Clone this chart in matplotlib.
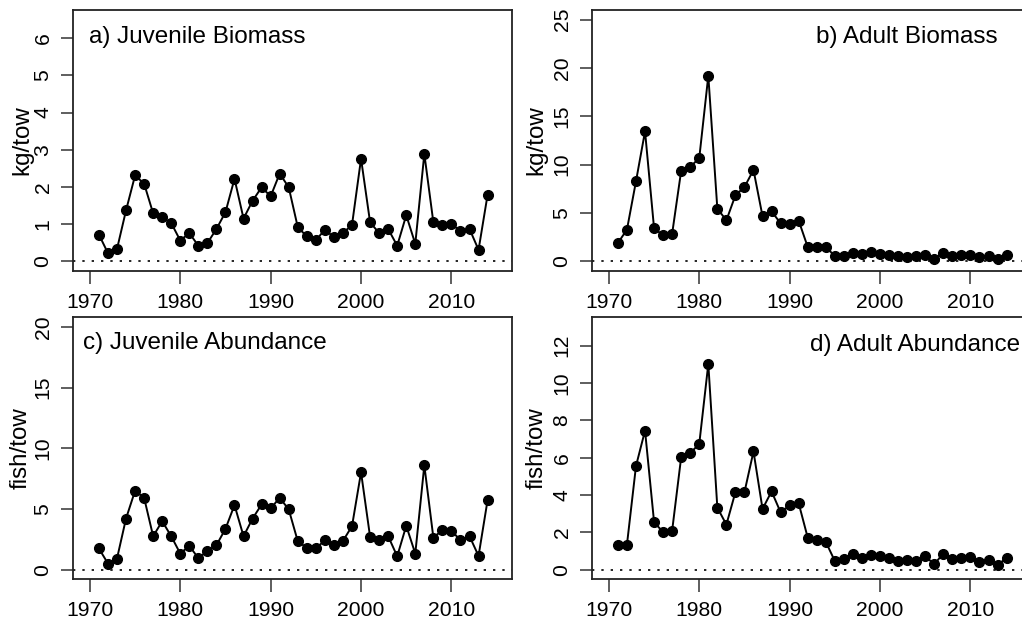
import numpy as np
import matplotlib
matplotlib.use("Agg")
import matplotlib.pyplot as plt

plt.rcParams['font.family'] = ['Liberation Sans', 'DejaVu Sans']

years = list(range(1971, 2015))

juv_biomass = [0.72, 0.22, 0.33, 1.37, 2.31, 2.09, 1.29, 1.18, 1.03, 0.56,
               0.76, 0.42, 0.49, 0.87, 1.32, 2.22, 1.15, 1.63, 1.99, 1.75,
               2.36, 1.99, 0.92, 0.67, 0.57, 0.85, 0.65, 0.76, 0.98, 2.76,
               1.05, 0.76, 0.87, 0.42, 1.24, 0.47, 2.89, 1.05, 0.97, 1.01,
               0.81, 0.87, 0.31, 1.79]

adult_biomass = [1.9, 3.28, 8.28, 13.45, 3.41, 2.69, 2.86, 9.38, 9.76, 10.69,
                 19.2, 5.45, 4.24, 6.83, 7.69, 9.45, 4.66, 5.17, 3.93, 3.9,
                 4.21, 1.48, 1.52, 1.52, 0.52, 0.52, 0.86, 0.79, 0.93, 0.79,
                 0.69, 0.52, 0.48, 0.52, 0.69, 0.28, 0.86, 0.59, 0.62, 0.69,
                 0.45, 0.55, 0.28, 0.62]

juv_abundance = [1.74, 0.5, 0.91, 4.21, 6.5, 5.92, 2.75, 3.99, 2.75, 1.32,
                 1.96, 0.94, 1.54, 2.01, 3.36, 5.32, 2.75, 4.21, 5.37, 5.04,
                 5.92, 4.96, 2.34, 1.79, 1.74, 2.42, 2.01, 2.37, 3.58, 8.02,
                 2.7, 2.42, 2.75, 1.1, 3.61, 1.32, 8.6, 2.64, 3.25, 3.2,
                 2.42, 2.75, 1.13, 5.73]

adult_abundance = [1.3, 1.34, 5.55, 7.45, 2.55, 2.0, 2.09, 6.03, 6.24, 6.74,
                   11.02, 3.32, 2.41, 4.15, 4.15, 6.33, 3.25, 4.19, 3.07, 3.44,
                   3.55, 1.71, 1.6, 1.48, 0.46, 0.59, 0.86, 0.64, 0.8, 0.75,
                   0.64, 0.46, 0.5, 0.46, 0.71, 0.29, 0.86, 0.57, 0.64, 0.68,
                   0.41, 0.53, 0.23, 0.64]

titles = ["a) Juvenile Biomass", "b) Adult Biomass",
          "c) Juvenile Abundance", "d) Adult Abundance"]
ylabels = ["kg/tow", "kg/tow", "fish/tow", "fish/tow"]
ymax = [6.5, 25, 20, 13]
ystep = [1, 5, 5, 2]
xticks = [1970, 1980, 1990, 2000, 2010]

fig = plt.figure(figsize=(10.22, 6.22), dpi=100)

W, H = 1022.0, 622.0
# axes boxes in pixels: left, top, right, bottom
boxes = [(72.7, 10, 512, 271), (591.7, 10, 1031, 271),
         (72.7, 317.3, 512, 579.3), (591.7, 317.3, 1031, 579.3)]
title_pos = [(0.037, 0.897, 'left'), (0.925, 0.897, 'right'),
             (0.024, 0.900, 'left'), (0.975, 0.894, 'right')]
ylab_x = [-0.1156, -0.125, -0.119, -0.126]
series = [juv_biomass, adult_biomass, juv_abundance, adult_abundance]

for i in range(4):
    l, t, r, b = boxes[i]
    ax = fig.add_axes([l / W, 1 - b / H, (r - l) / W, (b - t) / H])
    ax.axhline(0, color='black', lw=1.2, linestyle=(0, (1.4, 4.2)), zorder=1)
    ax.plot(years, series[i], color='black', lw=1.4, marker='o',
            markersize=7.0, markerfacecolor='black', markeredgecolor='black',
            zorder=3)
    ext = 0.04 * ymax[i]
    ax.set_ylim(-ext, ymax[i] + ext)
    ax.set_xlim(1968.1, 2016.7)
    ax.set_xticks(xticks)
    ax.set_yticks(np.arange(0, ymax[i] + 0.01, ystep[i]))
    ax.tick_params(axis='both', length=9, width=1.1, labelsize=15.2,
                   direction='out', color='#333333')
    ax.tick_params(axis='x', pad=6.5)
    ax.tick_params(axis='y', pad=5.5)
    for lab in ax.get_yticklabels():
        lab.set_rotation(90)
        lab.set_va('center')
    for s in ax.spines.values():
        s.set_linewidth(1.3)
        s.set_color('#222222')
    ax.set_ylabel(ylabels[i], fontsize=17.4, va='center')
    ax.yaxis.set_label_coords(ylab_x[i], 0.5)
    tx, ty, ha = title_pos[i]
    ax.text(tx, ty, titles[i], transform=ax.transAxes, ha=ha, va='center',
            fontsize=17.5)

fig.savefig("out.png", dpi=100)
